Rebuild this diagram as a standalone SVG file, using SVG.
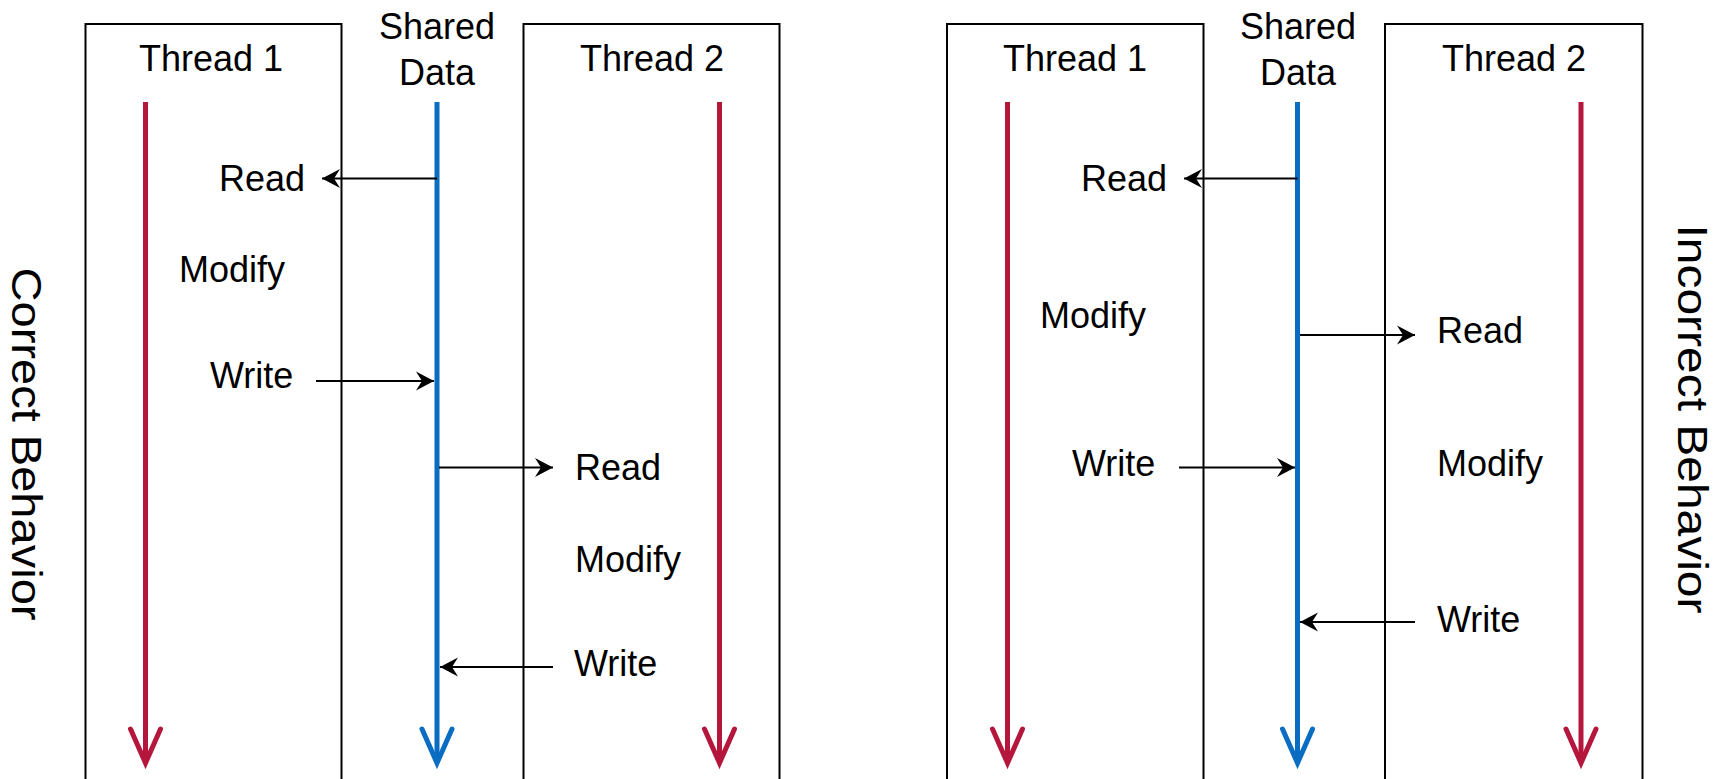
<svg xmlns="http://www.w3.org/2000/svg" width="1717" height="779" viewBox="0 0 1717 779">
<style>
  .box { fill: none; stroke: #000; stroke-width: 2; }
  .lbl { font-family: "Liberation Sans", Arial, sans-serif; font-size: 36px; fill: #000; }
  .hdr { font-family: "Liberation Sans", Arial, sans-serif; font-size: 36px; fill: #000; text-anchor: middle; }
  .side { font-family: "Liberation Sans", Arial, sans-serif; font-size: 42px; fill: #000; text-anchor: middle; }
  .red { stroke: #B4173B; stroke-width: 5; fill: none; }
  .blue { stroke: #0A6DC2; stroke-width: 5; fill: none; }
  .head { stroke-width: 5; fill: none; stroke-linecap: round; stroke-linejoin: miter; }
  .conn { stroke: #000; stroke-width: 2; fill: none; marker-end: url(#barb); }
</style>
<defs>
  <marker id="barb" markerUnits="userSpaceOnUse" markerWidth="24" markerHeight="24" viewBox="-20 -12 22 24" refX="0" refY="0" orient="auto">
    <path d="M0,0 L-18,-9.5 L-12,0 L-18,9.5 Z" fill="#000"/>
  </marker>
</defs>
<rect width="1717" height="779" fill="#fff"/>

<!-- Left panel: Correct behavior -->
<g id="left-thread1">
  <rect class="box" x="85.5" y="24" width="256" height="800"/>
  <text class="hdr" x="211" y="71">Thread 1</text>
  <line class="red" x1="145.5" y1="102" x2="145.5" y2="760"/>
  <polyline class="red head" points="130.5,729 145.5,763 160.5,729"/>
  <text class="lbl" x="219" y="191">Read</text>
  <text class="lbl" x="179" y="282">Modify</text>
  <text class="lbl" x="210" y="388">Write</text>
</g>
<g id="left-shared">
  <text class="hdr" x="437" y="39">Shared</text>
  <text class="hdr" x="437" y="85">Data</text>
  <line class="blue" x1="437" y1="102" x2="437" y2="760"/>
  <polyline class="blue head" points="422,729 437,763 452,729"/>
</g>
<g id="left-thread2">
  <rect class="box" x="523.5" y="24" width="256" height="800"/>
  <text class="hdr" x="652" y="71">Thread 2</text>
  <line class="red" x1="719.5" y1="102" x2="719.5" y2="760"/>
  <polyline class="red head" points="704.5,729 719.5,763 734.5,729"/>
  <text class="lbl" x="575" y="480">Read</text>
  <text class="lbl" x="575" y="572">Modify</text>
  <text class="lbl" x="574" y="676">Write</text>
</g>
<g id="left-label">
  <text class="side" transform="translate(12,444) rotate(90)" textLength="353" lengthAdjust="spacingAndGlyphs">Correct Behavior</text>
</g>

<!-- Right panel: Incorrect behavior -->
<g id="right-thread1">
  <rect class="box" x="947" y="24" width="256.5" height="800"/>
  <text class="hdr" x="1075" y="71">Thread 1</text>
  <line class="red" x1="1007.5" y1="102" x2="1007.5" y2="760"/>
  <polyline class="red head" points="992.5,729 1007.5,763 1022.5,729"/>
  <text class="lbl" x="1081" y="191">Read</text>
  <text class="lbl" x="1040" y="328">Modify</text>
  <text class="lbl" x="1072" y="476">Write</text>
</g>
<g id="right-shared">
  <text class="hdr" x="1298" y="39">Shared</text>
  <text class="hdr" x="1298" y="85">Data</text>
  <line class="blue" x1="1297.5" y1="102" x2="1297.5" y2="760"/>
  <polyline class="blue head" points="1282.5,729 1297.5,763 1312.5,729"/>
</g>
<g id="right-thread2">
  <rect class="box" x="1385" y="24" width="257.5" height="800"/>
  <text class="hdr" x="1514" y="71">Thread 2</text>
  <line class="red" x1="1581" y1="102" x2="1581" y2="760"/>
  <polyline class="red head" points="1566,729 1581,763 1596,729"/>
  <text class="lbl" x="1437" y="343">Read</text>
  <text class="lbl" x="1437" y="476">Modify</text>
  <text class="lbl" x="1437" y="632">Write</text>
</g>
<g id="right-label">
  <text class="side" transform="translate(1678,419) rotate(90)" textLength="389" lengthAdjust="spacingAndGlyphs">Incorrect Behavior</text>
</g>

<g id="connectors">
  <line class="conn" x1="437" y1="178.5" x2="322" y2="178.5"/>
  <line class="conn" x1="316" y1="381" x2="434" y2="381"/>
  <line class="conn" x1="439" y1="467.5" x2="553" y2="467.5"/>
  <line class="conn" x1="553" y1="667" x2="440" y2="667"/>
  <line class="conn" x1="1297.5" y1="178.5" x2="1184" y2="178.5"/>
  <line class="conn" x1="1300" y1="335" x2="1415" y2="335"/>
  <line class="conn" x1="1179" y1="467.5" x2="1295" y2="467.5"/>
  <line class="conn" x1="1415" y1="622" x2="1300" y2="622"/>
</g>
</svg>
